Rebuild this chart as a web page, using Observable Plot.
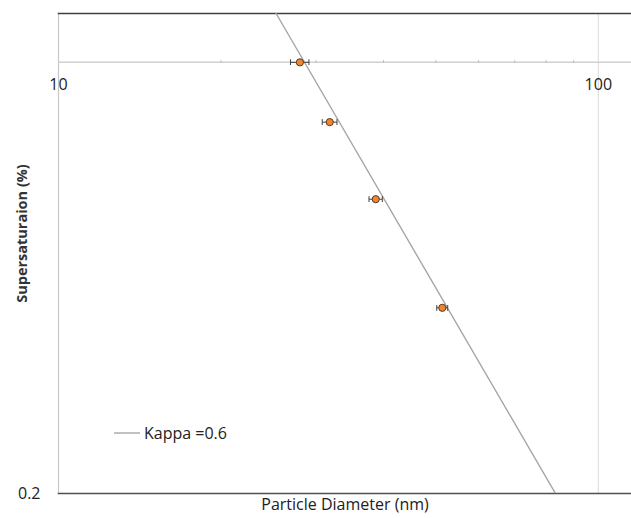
<!DOCTYPE html>
<html>
<head>
<meta charset="utf-8">
<script src="https://cdn.jsdelivr.net/npm/d3@7"></script>
<script src="https://cdn.jsdelivr.net/npm/@observablehq/plot@0.6"></script>
<style>
  html, body { margin: 0; padding: 0; background: #fff; }
  #chart { width: 631px; height: 518px; }
</style>
</head>
<body>
<div id="chart"></div>
<script>
// Data
const diameters = [28.0, 31.8, 38.7, 51.4];         // Particle Diameter (nm)
const supersats = [1.0, 0.8, 0.6, 0.4];             // Supersaturation (%)
const diamErrors = [1.1, 1.0, 1.1, 1.2];            // horizontal error (nm)
const kappaD = [25.3, 83.3];                         // Kappa = 0.6 line, diameter
const kappaS = [1.2, 0.2];                           // Kappa = 0.6 line, supersaturation
const majorTicks = [10, 100];
const minorTicks = [20, 30, 40, 50, 60, 70, 80, 90];
const yTickLabels = [0.2];
const legendLabel = "Kappa =0.6";

const points = diameters.map((d, i) => ({d, s: supersats[i], e: diamErrors[i]}));
const kappa = kappaD.map((d, i) => ({d, s: kappaS[i]}));

const FONT = "'Open Sans', sans-serif";

const plot = Plot.plot({
  width: 631,
  height: 518,
  marginLeft: 58,
  marginRight: 0,
  marginTop: 13,
  marginBottom: 25,
  style: {fontFamily: FONT, fontSize: "15px", color: "#333", background: "#fff"},
  x: {type: "log", domain: [10, 115.2], axis: null},
  y: {type: "log", domain: [0.2, 1.2], axis: null},
  marks: [
    // y axis line at x=10 and gridline at x=100
    Plot.ruleX([10], {stroke: "#c8c8c8", strokeWidth: 1.2}),
    Plot.ruleX([100], {stroke: "#d9d9d9", strokeWidth: 1}),
    // x axis crossing at y = 1
    Plot.ruleY([1], {stroke: "#d0d0d0", strokeWidth: 1.5}),
    Plot.axisX({anchor: "top", ticks: minorTicks, tickFormat: () => "", tickSize: 3, dy: 49, stroke: "#bfbfbf", strokeOpacity: 1, label: null}),
    Plot.text(majorTicks, {x: d => d, y: 1, text: d => String(d), dy: 23, fontSize: 16, fill: "#222"}),
    // y tick label
    Plot.axisY({ticks: yTickLabels, tickFormat: () => "0.2", tickSize: 0, tickPadding: 18, fontSize: 16, color: "#222", label: null}),
    // frame top and bottom
    Plot.frame({anchor: "top", stroke: "#404040", strokeWidth: 1.5}),
    Plot.frame({anchor: "bottom", stroke: "#505050", strokeWidth: 1.5}),
    // kappa line
    Plot.line(kappa, {x: "d", y: "s", stroke: "#a6a6a6", strokeWidth: 1.4, clip: true}),
    // error bars
    Plot.link(points, {x1: d => d.d - d.e, x2: d => d.d + d.e, y1: "s", y2: "s", stroke: "#404040", strokeWidth: 1, markerStart: "tick", markerEnd: "tick"}),
    // points
    Plot.dot(points, {x: "d", y: "s", r: 3.6, fill: "#f0852f", stroke: "#5a3a20", strokeWidth: 1}),
    // axis titles
    Plot.text([0], {frameAnchor: "bottom", dy: 16, text: () => "Particle Diameter (nm)", fontSize: 16, fill: "#222"}),
    Plot.text([0], {frameAnchor: "left", textAnchor: "middle", dx: -36, dy: -20, rotate: -90, text: () => "Supersaturaion (%)", fontSize: 14.5, fontWeight: "bold", fill: "#333"})
  ]
});

// Legend entry
const svg = d3.select(plot);
const g = svg.append("g").attr("font-family", FONT).attr("text-anchor", "start");
g.append("line").attr("x1", 114).attr("x2", 140).attr("y1", 433).attr("y2", 433).attr("stroke", "#a6a6a6").attr("stroke-width", 1.4);
g.append("text").attr("x", 144).attr("y", 433).attr("dy", "0.35em").attr("font-size", 16).attr("fill", "#222").text(legendLabel);

document.getElementById("chart").appendChild(plot);
</script>
</body>
</html>
